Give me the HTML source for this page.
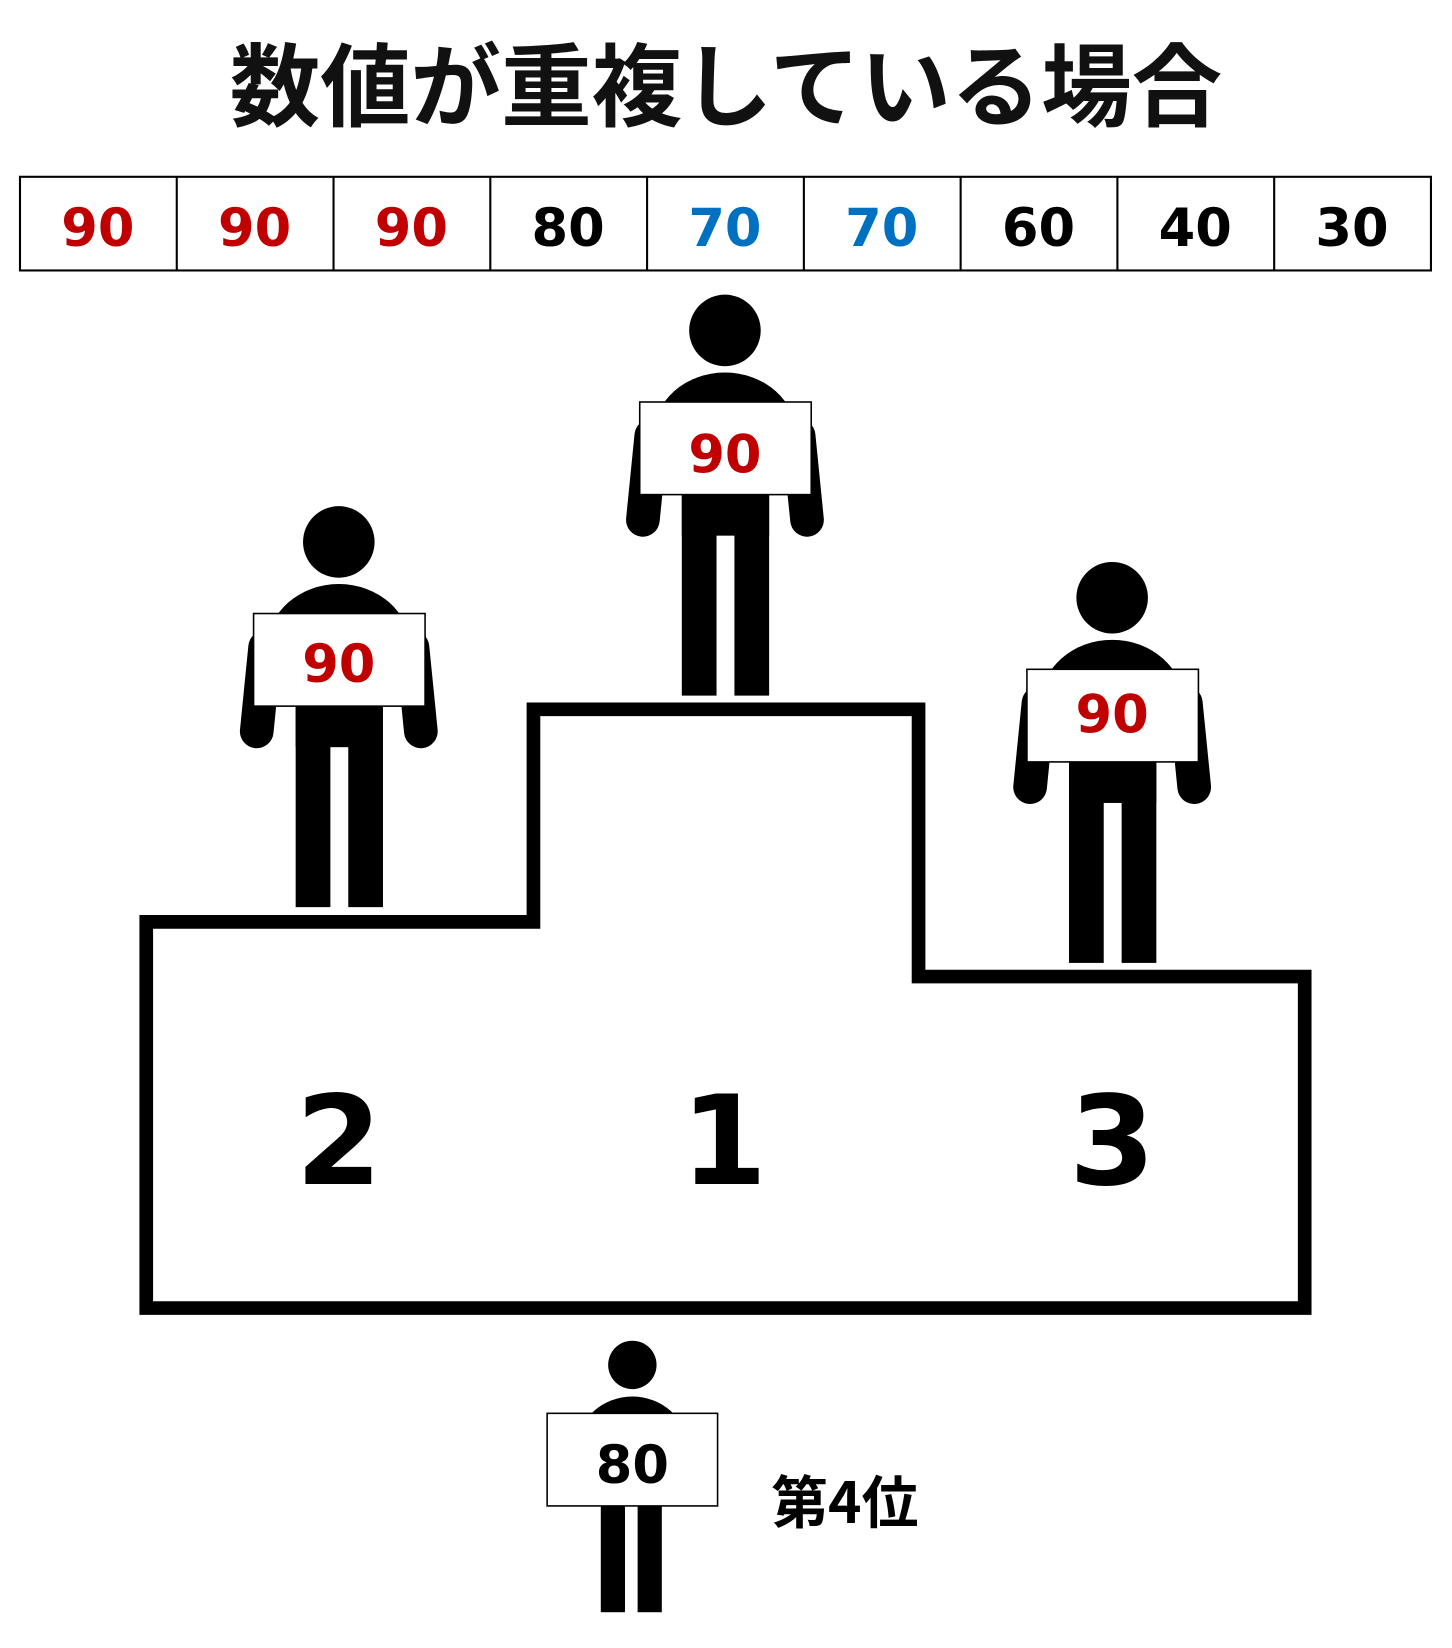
<!DOCTYPE html>
<html><head><meta charset="utf-8"><style>html,body{margin:0;padding:0;background:#fff}svg{display:block}</style></head>
<body>
<svg width="1452" height="1648" viewBox="0 0 1380 1566" preserveAspectRatio="none" xmlns="http://www.w3.org/2000/svg" font-family="'DejaVu Sans','Noto Sans CJK JP',sans-serif">
<defs>
<g id="p">
<circle cx="0" cy="0" r="34" fill="#000"/>
<ellipse cx="0" cy="100" rx="68" ry="60" fill="#000"/>
<line x1="-70" y1="100" x2="-78" y2="180" stroke="#000" stroke-width="32" stroke-linecap="round"/>
<line x1="70" y1="100" x2="78" y2="180" stroke="#000" stroke-width="32" stroke-linecap="round"/>
<rect x="-41" y="150" width="83" height="45" fill="#000"/>
<rect x="-41" y="150" width="33" height="197" fill="#000"/>
<rect x="9" y="150" width="33" height="197" fill="#000"/>
<rect x="-81" y="68" width="163" height="88" fill="#fff" stroke="#000" stroke-width="1.5"/>
</g>
</defs>
<text x="690" y="113" font-size="86" font-weight="bold" text-anchor="middle" fill="#111" font-family="'Noto Sans CJK JP',sans-serif">数値が重複している場合</text>
<g stroke="#000" stroke-width="2" fill="none">
<rect x="19" y="168" width="1341" height="89"/>
<line x1="168" y1="168" x2="168" y2="257"/><line x1="317" y1="168" x2="317" y2="257"/>
<line x1="466" y1="168" x2="466" y2="257"/><line x1="615" y1="168" x2="615" y2="257"/>
<line x1="764" y1="168" x2="764" y2="257"/><line x1="913" y1="168" x2="913" y2="257"/>
<line x1="1062" y1="168" x2="1062" y2="257"/><line x1="1211" y1="168" x2="1211" y2="257"/>
</g>
<g font-size="50" text-anchor="middle" font-weight="bold">
<text x="93" y="234" fill="#c00000">90</text>
<text x="242" y="234" fill="#c00000">90</text>
<text x="391" y="234" fill="#c00000">90</text>
<text x="540" y="234" fill="#000">80</text>
<text x="689" y="234" fill="#0070c0">70</text>
<text x="838" y="234" fill="#0070c0">70</text>
<text x="987" y="234" fill="#000">60</text>
<text x="1136" y="234" fill="#000">40</text>
<text x="1285" y="234" fill="#000">30</text>
</g>
<path d="M139 1243 V876 H507 V674 H873 V928 H1240 V1243 Z" fill="none" stroke="#000" stroke-width="13"/>
<g font-size="118" font-weight="bold" text-anchor="middle" fill="#000">
<text x="322" y="1125">2</text><text x="688" y="1125">1</text><text x="1057" y="1125">3</text>
</g>
<use href="#p" x="689" y="314"/>
<use href="#p" x="322" y="515"/>
<use href="#p" x="1057" y="568"/>
<g font-size="50" text-anchor="middle" font-weight="bold" fill="#c00000">
<text x="689" y="449">90</text><text x="322" y="648">90</text><text x="1057" y="696">90</text>
</g>
<circle cx="601" cy="1297" r="23" fill="#000"/>
<ellipse cx="601" cy="1375" rx="52" ry="48" fill="#000"/>
<rect x="571" y="1420" width="23" height="112" fill="#000"/>
<rect x="606" y="1420" width="23" height="112" fill="#000"/>
<rect x="520" y="1343" width="162" height="88" fill="#fff" stroke="#000" stroke-width="1.5"/>
<text x="601" y="1409" font-size="50" text-anchor="middle" font-weight="bold" fill="#000">80</text>
<text x="733" y="1447" font-size="54" font-weight="bold" fill="#000" font-family="'Noto Sans CJK JP',sans-serif">第4位</text>
</svg>
</body></html>
